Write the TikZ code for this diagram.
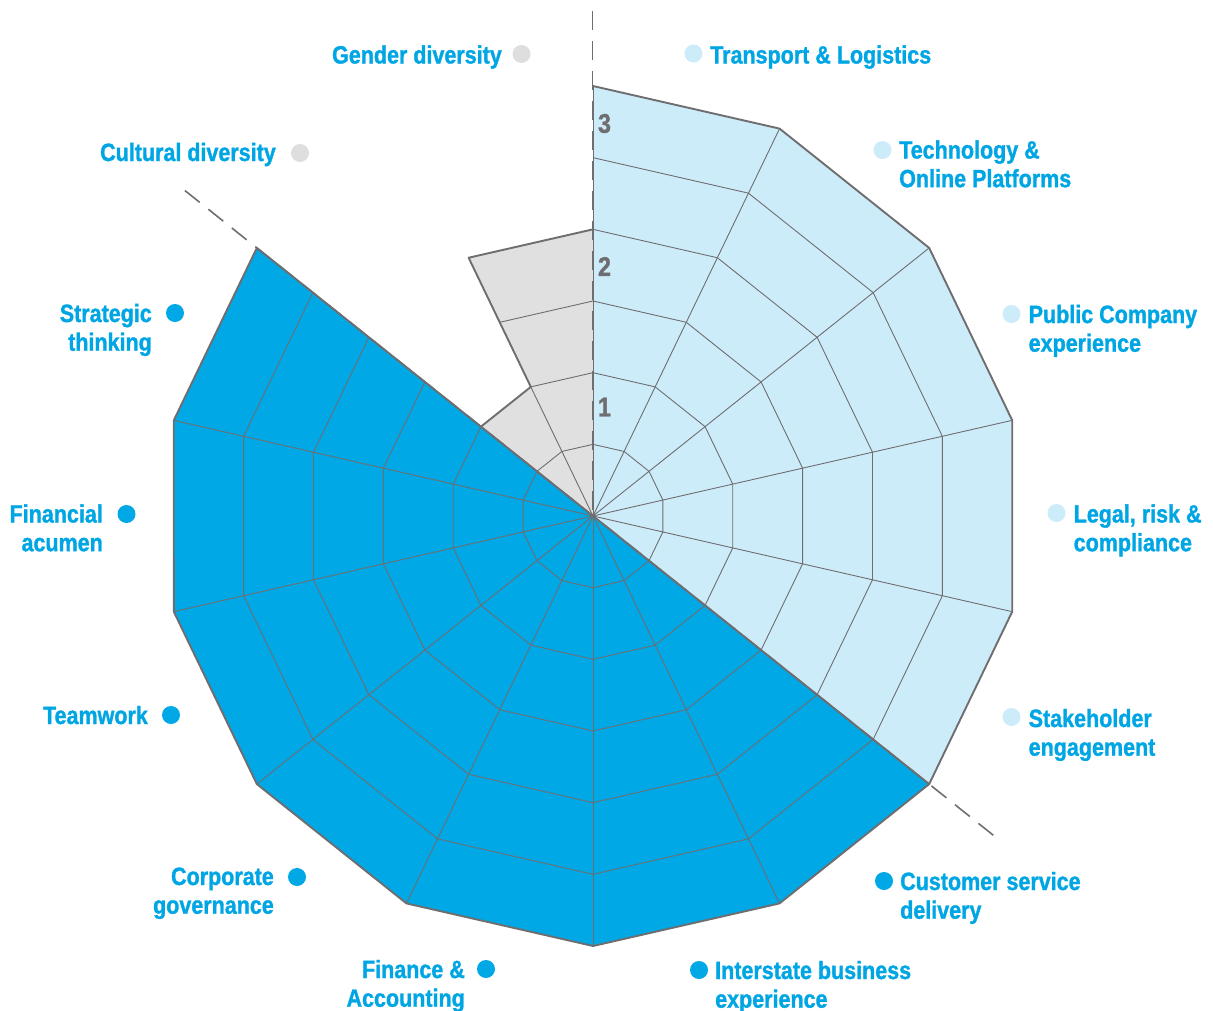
\documentclass[tikz,border=0pt]{standalone}
\usepackage{fontspec}
\setmainfont{Liberation Sans}[FakeStretch=0.86, BoldFeatures={FakeBold=1.2}]
\definecolor{lightfill}{RGB}{205,236,249}
\definecolor{darkfill}{RGB}{0,168,230}
\definecolor{greyfill}{RGB}{224,224,224}
\definecolor{lgrey}{RGB}{110,110,113}
\definecolor{cyantext}{RGB}{0,166,228}
\definecolor{greydot}{RGB}{222,222,222}
\begin{document}
\begin{tikzpicture}[x=1pt,y=-1pt,
  grid/.style={draw=lgrey, line width=0.9pt},
  outline/.style={draw=lgrey, line width=1.9pt, line join=round},
  sepline/.style={draw=lgrey, line width=1.6pt, dash pattern=on 19pt off 11pt},
  lbl/.style={inner sep=0pt, text=cyantext, font=\fontsize{25}{28.7}\selectfont\bfseries},
  num/.style={inner sep=0pt, text=lgrey, font=\fontsize{27}{30}\selectfont\bfseries},
  dot/.style={circle, inner sep=0pt, minimum size=18pt},
]
\useasboundingbox (0,0) rectangle (1213,1010);
\begin{scope}[shift={(593,516)}, y=1pt]
  \def\A{25.7142857}
  \def\R{430}
  \def\U{71.6666667}
  % fills
  \fill[lightfill] (0,0) \foreach \k in {0,...,5}{ -- ({90-\k*\A}:\R)} -- cycle;
  \fill[darkfill] (0,0) \foreach \k in {5,...,12}{ -- ({90-\k*\A}:\R)} -- cycle;
  \fill[greyfill] (0,0) -- ({90-12*\A}:{2*\U}) -- ({90-13*\A}:{2*\U}) -- ({90-13*\A}:{4*\U}) -- (90:{4*\U}) -- cycle;
  % rings
  \foreach \k in {0,...,11}{
    \foreach \j in {1,...,5}{
      \draw[grid] ({90-\k*\A}:{\j*\U}) -- ({90-(\k+1)*\A}:{\j*\U});
    }
  }
  \draw[grid] ({90-12*\A}:{\U}) -- ({90-13*\A}:{\U});
  \foreach \j in {1,...,3}{
    \draw[grid] ({90-13*\A}:{\j*\U}) -- (90:{\j*\U});
  }
  % spokes
  \foreach \k in {1,...,12}{
    \draw[grid] (0,0) -- ({90-\k*\A}:\R);
  }
  \draw[grid] (0,0) -- ({90-13*\A}:{2*\U});
  \draw[grid] (0.8,0) -- (0.8,\R);
  % separators
  \draw[sepline] (-0.6,505) -- (-0.6,0);
  \draw[sepline] ({90-5*\A}:512) -- (0,0);
  \draw[sepline] ({90-12*\A}:522) -- (0,0);
  % outlines
  \draw[outline] (0,0) -- ({90-12*\A}:\R) \foreach \k in {11,10,...,0}{ -- ({90-\k*\A}:\R)};
  \draw[outline] (0,0) -- ({90-5*\A}:\R);
  \draw[outline] ({90-12*\A}:{2*\U}) -- ({90-13*\A}:{2*\U}) -- ({90-13*\A}:{4*\U}) -- (90:{4*\U});
\end{scope}
% scale numbers
\node[num] (n3) at (604.5,123.5) {3};
\node[num] (n2) at (604.5,266.5) {2};
\node[num] (n1) at (604.5,407) {1};
% right-hand labels
\node[dot, fill=lightfill] (d1) at (693.5,53.5) {};
\node[lbl, anchor=base west] (t1) at (710,63.5) {Transport \& Logistics};
\node[dot, fill=lightfill] (d2) at (882.5,150) {};
\node[lbl, anchor=base west] (t2) at (899,158.5) {\begin{tabular}[t]{@{}l@{}}Technology \&\\Online Platforms\end{tabular}};
\node[dot, fill=lightfill] (d3) at (1011.5,314) {};
\node[lbl, anchor=base west] (t3) at (1028.5,323) {\begin{tabular}[t]{@{}l@{}}Public Company\\experience\end{tabular}};
\node[dot, fill=lightfill] (d4) at (1056.5,513) {};
\node[lbl, anchor=base west] (t4) at (1073.5,522.5) {\begin{tabular}[t]{@{}l@{}}Legal, risk \&\\compliance\end{tabular}};
\node[dot, fill=lightfill] (d5) at (1011.5,717) {};
\node[lbl, anchor=base west] (t5) at (1028.5,727) {\begin{tabular}[t]{@{}l@{}}Stakeholder\\engagement\end{tabular}};
\node[dot, fill=darkfill] (d6) at (884,881) {};
\node[lbl, anchor=base west] (t6) at (900,890) {\begin{tabular}[t]{@{}l@{}}Customer service\\delivery\end{tabular}};
\node[dot, fill=darkfill] (d7) at (699,970) {};
\node[lbl, anchor=base west] (t7) at (715,979) {\begin{tabular}[t]{@{}l@{}}Interstate business\\experience\end{tabular}};
% left-hand labels
\node[dot, fill=darkfill] (d8) at (486,969) {};
\node[lbl, anchor=base east] (t8) at (465,978) {\begin{tabular}[t]{@{}r@{}}Finance \&\\Accounting\end{tabular}};
\node[dot, fill=darkfill] (d9) at (297,877) {};
\node[lbl, anchor=base east] (t9) at (274,885) {\begin{tabular}[t]{@{}r@{}}Corporate\\governance\end{tabular}};
\node[dot, fill=darkfill] (d10) at (171,715) {};
\node[lbl, anchor=base east] (t10) at (148,724) {Teamwork};
\node[dot, fill=darkfill] (d11) at (126.5,514) {};
\node[lbl, anchor=base east] (t11) at (103,522.5) {\begin{tabular}[t]{@{}r@{}}Financial\\acumen\end{tabular}};
\node[dot, fill=darkfill] (d12) at (175,313) {};
\node[lbl, anchor=base east] (t12) at (152,322) {\begin{tabular}[t]{@{}r@{}}Strategic\\thinking\end{tabular}};
\node[dot, fill=greydot] (d13) at (300,153) {};
\node[lbl, anchor=base east] (t13) at (276,161) {Cultural diversity};
\node[dot, fill=greydot] (d14) at (521.5,54) {};
\node[lbl, anchor=base east] (t14) at (502,63.5) {Gender diversity};
\end{tikzpicture}
\end{document}
